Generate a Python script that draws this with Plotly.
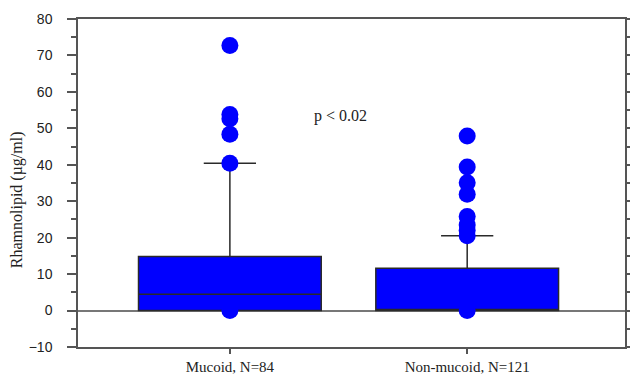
import plotly.graph_objects as go

categories = ["Mucoid, N=84", "Non-mucoid, N=121"]
q1 = [0.0, 0.0]
median = [4.5, 0.0]
q3 = [14.8, 11.6]
lower_fence = [0.0, 0.0]
upper_fence = [40.4, 20.5]
mucoid_outliers = [72.7, 53.8, 52.6, 48.4, 40.4, 0.0]
nonmucoid_outliers = [47.9, 39.4, 35.1, 31.9, 25.8, 23.5, 22.0, 20.5, 0.0]
y_ticks = list(range(-10, 81, 10))
p_text = "p < 0.02"
y_title = "Rhamnolipid (µg/ml)"

BLUE = "#0000FF"
AXIS = "#555555"
SERIF = "Liberation Serif, Times New Roman, serif"
SANS = "Liberation Sans, Arial, sans-serif"

outliers = [mucoid_outliers, nonmucoid_outliers]

fig = go.Figure()

fig.add_trace(go.Box(
    x=categories, q1=q1, median=median, q3=q3,
    lowerfence=lower_fence, upperfence=upper_fence,
    boxpoints=False, width=0.77, whiskerwidth=0.286,
    fillcolor=BLUE, line=dict(color="#2a2a2a", width=1.5),
    showlegend=False,
))

for cat, vals in zip(categories, outliers):
    fig.add_trace(go.Scatter(x=[cat] * len(vals), y=vals, mode="markers",
                             marker=dict(color=BLUE, size=17), showlegend=False,
                             hoverinfo="y"))

fig.add_annotation(x=0.479, y=53.3, xref="paper", yref="y", text=p_text,
                   showarrow=False, font=dict(family=SERIF, size=16, color="#222"),
                   xanchor="center", yanchor="middle")
fig.add_annotation(x=-0.11, y=0.45, xref="paper", yref="paper", text=y_title,
                   textangle=-90, showarrow=False,
                   font=dict(family=SERIF, size=16, color="#222"),
                   xanchor="center", yanchor="middle")

fig.update_layout(
    width=630, height=375,
    margin=dict(l=78, r=5, t=19, b=28, autoexpand=False),
    paper_bgcolor="white", plot_bgcolor="white",
    xaxis=dict(type="category", categoryorder="array", categoryarray=categories,
               range=[-0.64, 1.665], showline=True, linecolor=AXIS, linewidth=1.5,
               mirror=True, ticks="outside", ticklen=5, tickcolor=AXIS,
               tickwidth=1.5, showgrid=False, zeroline=False, automargin=False,
               tickfont=dict(family=SERIF, size=15, color="#222"),
               ticklabelstandoff=0),
    yaxis=dict(range=[-10, 80], tickvals=y_ticks, showline=True, linecolor=AXIS,
               linewidth=1.5, mirror="ticks", ticks="outside", ticklen=9,
               tickcolor=AXIS, tickwidth=1.5, showgrid=False, automargin=False,
               zeroline=True, zerolinecolor="#777777", zerolinewidth=1.5,
               minor=dict(dtick=5, ticks="outside", ticklen=5, tickcolor=AXIS,
                          tickwidth=1.5, showgrid=False),
               tickfont=dict(family=SANS, size=14, color="#222"),
               ticklabelstandoff=12),
)

fig.write_html("out.html")
